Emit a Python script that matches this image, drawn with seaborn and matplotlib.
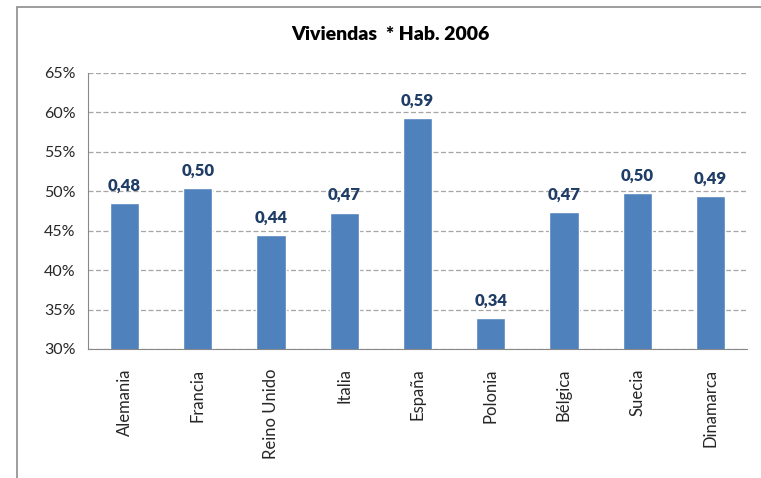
from matplotlib import pyplot as plt
from matplotlib.patches import Rectangle
from matplotlib.ticker import FuncFormatter, FixedLocator
import numpy as np
import seaborn as sns
import pandas as pd

# data (viviendas per habitant, in %)
paises = ['Alemania', 'Francia', 'Reino Unido', 'Italia', 'España',
          'Polonia', 'Bélgica', 'Suecia', 'Dinamarca']
viviendas = [48.5, 50.4, 44.4, 47.3, 59.3, 33.9, 47.4, 49.8, 49.4]

df = pd.DataFrame({'Pais': paises, 'Viviendas': viviendas})

sns.set_style('white')
plt.rcParams['font.family'] = ['Lato', 'DejaVu Sans']

fig = plt.figure(figsize=(7.61, 4.78), dpi=100)
ax = fig.add_axes([88/761, 1-349/478, (747-88)/761, (349-73)/478])

sns.barplot(data=df, x='Pais', y='Viviendas', color='#4F81BD', width=0.4,
            saturation=1, ax=ax, zorder=3)

ax.set_ylim(30, 65)
ax.set_xlim(-0.5, len(paises)-0.5)
ax.set_yticks(np.arange(30, 66, 5))
ax.yaxis.set_major_formatter(FuncFormatter(lambda v, p: f'{v:.0f}%'))
ax.grid(axis='y', linestyle=(0, (4, 2)), color='#A6A6A6', linewidth=0.9, zorder=0)
ax.set_axisbelow(True)

# category separator ticks on x axis
ax.xaxis.set_minor_locator(FixedLocator(np.arange(-0.5, len(paises), 1)))
ax.tick_params(axis='x', which='major', length=0, pad=14, labelsize=12, rotation=90)
ax.tick_params(axis='x', which='minor', length=6, color='#888888', width=0.9)
ax.tick_params(axis='y', which='major', length=5, color='#888888', width=0.9, labelsize=11.5, pad=4)
for lab in ax.get_xticklabels():
    lab.set_verticalalignment('top')

for s in ['top', 'right']:
    ax.spines[s].set_visible(False)
ax.spines['left'].set_color('#888888')
ax.spines['bottom'].set_color('#888888')
ax.set_xlabel('')
ax.set_ylabel('')

# value labels
for i, v in enumerate(viviendas):
    ax.text(i, v + 1.2, f'{v/100:.2f}'.replace('.', ','), ha='center', va='bottom',
            fontsize=12, fontweight='heavy', color='#1F3D66')

fig.text(390/761, 1-35/478, 'Viviendas  * Hab. 2006', ha='center', va='center',
         fontsize=14, fontweight='heavy', color='black')

# chart frame
fig.add_artist(Rectangle((17/761, -0.1), 1.2, (478-7)/478 + 0.1, transform=fig.transFigure,
                         fill=False, edgecolor='#8C8C8C', linewidth=1.2))

plt.savefig('out.png', dpi=100)
